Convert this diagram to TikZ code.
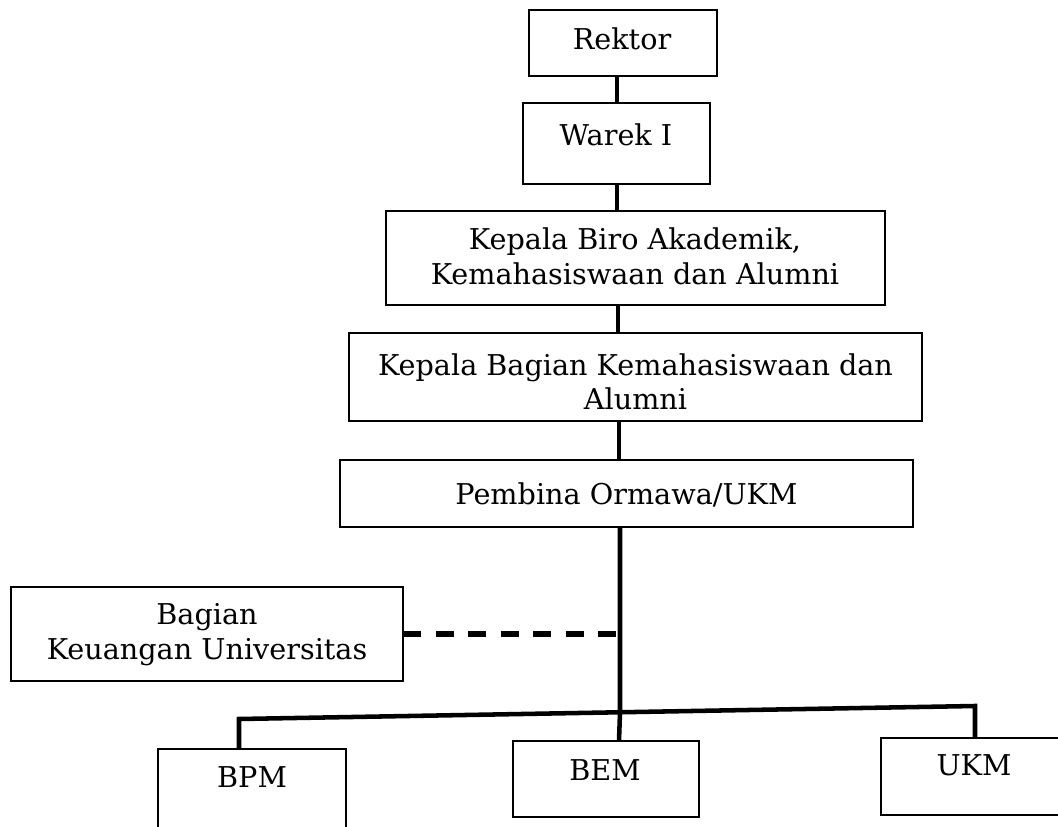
\documentclass[tikz,border=0pt]{standalone}
\usepackage{fontspec}
\setmainfont{DejaVu Serif}
\begin{document}
\begin{tikzpicture}[x=0.75pt,y=-0.75pt,
  box/.style={draw, line width=1.05pt, inner sep=0pt, outer sep=0pt},
  txt/.style={inner sep=0pt, anchor=base, font=\fontsize{21.5}{26}\selectfont},
  conn/.style={line width=3.4pt, line join=miter},
  dashline/.style={line width=3.8pt, dash pattern=on 13.5pt off 10.9pt}]
\useasboundingbox (0,0) rectangle (1058,827);
\clip (0,0) rectangle (1058,827);
\newcommand\orgbox[5]{\node[box, minimum width={(#4-#2)*0.75pt}, minimum height={(#5-#3)*0.75pt}] (#1) at ({(#2+#4)/2},{(#3+#5)/2}) {};}
% boxes
\orgbox{rektor}{529}{10}{717}{76}
\orgbox{warek}{523}{103}{710}{184}
\orgbox{biro}{386}{211}{885}{305}
\orgbox{kabag}{349}{333}{922}{421}
\orgbox{pembina}{340}{460}{913}{527}
\orgbox{keu}{11}{587}{403}{681}
\orgbox{bpm}{158}{749}{346}{845}
\orgbox{bem}{513}{741}{699}{817}
\orgbox{ukm}{881}{738}{1075}{815}
% texts
\node[txt] (rektor-t) at (622,50) {Rektor};
\node[txt] (warek-t) at (616,146) {Warek I};
\node[txt] (biro-t1) at (635,250) {Kepala Biro Akademik,};
\node[txt] (biro-t2) at (635,285) {Kemahasiswaan dan Alumni};
\node[txt] (kabag-t1) at (635.5,376) {Kepala Bagian Kemahasiswaan dan};
\node[txt] (kabag-t2) at (635.5,410) {Alumni};
\node[txt] (pembina-t) at (626.5,504) {Pembina Ormawa/UKM};
\node[txt] (keu-t1) at (207,624) {Bagian};
\node[txt] (keu-t2) at (207,659) {Keuangan Universitas};
\node[txt] (bpm-t) at (252,787) {BPM};
\node[txt] (bem-t) at (605,780) {BEM};
\node[txt] (ukm-t) at (974,775) {UKM};
% spine coordinates
\coordinate (sA) at (617,0);
\coordinate (sB) at (618,0);
\coordinate (sC) at (619,0);
\coordinate (barL) at (239,719);
\coordinate (barR) at (975,706);
\coordinate (barM) at (620,712.3);
% connectors
\draw[conn] (rektor.south -| sA) -- (warek.north -| sA);
\draw[conn] (warek.south -| sA) -- (biro.north -| sA);
\draw[conn] (biro.south -| sB) -- (kabag.north -| sB);
\draw[conn] (kabag.south -| sC) -- (pembina.north -| sC);
\draw[conn] (pembina.south -| barM) -- (barM) -- (bem.north -| sC);
\draw[conn] (bpm.north -| barL) -- (barL) -- (barR) -- (ukm.north -| barR);
\draw[dashline] (keu.east) -- (keu.east -| barM);
\end{tikzpicture}
\end{document}
